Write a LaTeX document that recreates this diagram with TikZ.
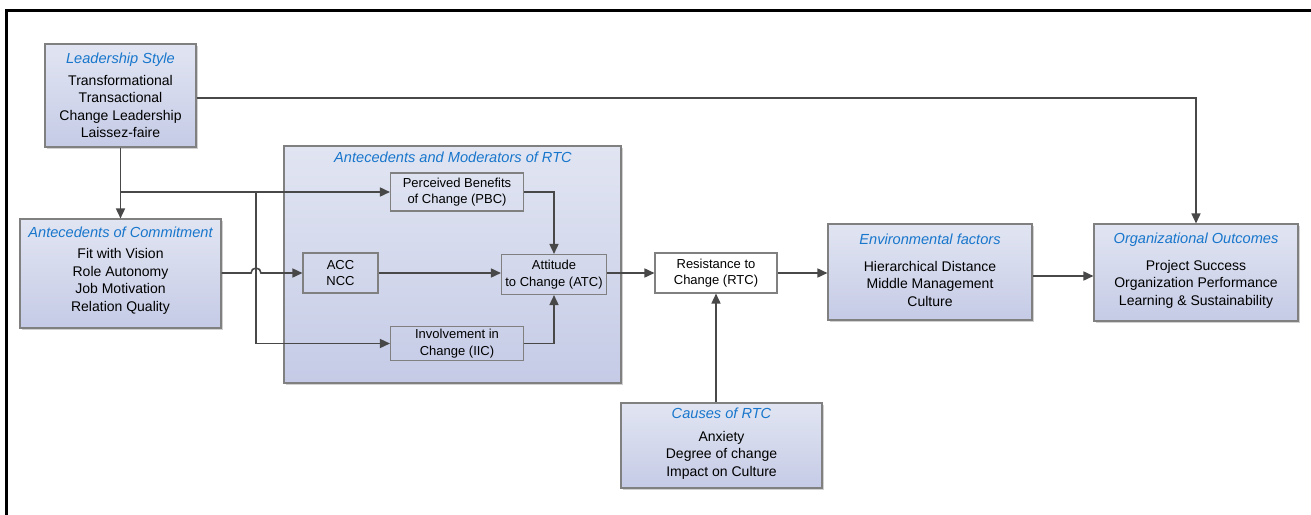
\documentclass[tikz,border=0pt]{standalone}
\usepackage{fontspec}
\setmainfont{Liberation Sans}
\usetikzlibrary{arrows.meta,shadows,calc}
\definecolor{ttlblue}{RGB}{24,118,204}
\definecolor{lineg}{RGB}{72,72,72}
\definecolor{boxedge}{RGB}{128,128,128}
\definecolor{boxtop}{RGB}{225,229,242}
\definecolor{boxbot}{RGB}{197,203,230}
\newcommand{\ttl}[1]{{\itshape\color{ttlblue}\fontsize{14.6}{17}\selectfont #1}}
\begin{document}
\begin{tikzpicture}[x=1pt,y=-1pt,
  bigbox/.style={draw=boxedge,line width=1.1pt,top color=boxtop,bottom color=boxbot,
    inner sep=0pt,align=center,font=\fontsize{14}{17.5}\selectfont,
    drop shadow={shadow xshift=2pt,shadow yshift=-2pt,opacity=0.18,fill=black}},
  boxtext/.style={align=center,font=\fontsize{14}{17.5}\selectfont,inner sep=0pt},
  smallbox/.style={draw=boxedge,line width=1.1pt,inner sep=0pt,align=center,
    font=\fontsize{13}{16.5}\selectfont},
  conn/.style={draw=lineg,line width=1.6pt,-{Triangle[length=10pt,width=9pt]}},
  borderline/.style={line width=3pt,black}]
\useasboundingbox (0,0) rectangle (1311,514);
\draw[borderline] (6,516) -- (6,10) -- (1313,10);

% big boxes
\node[bigbox,minimum width=151pt,minimum height=103pt] (LS) at (120.5,95.5)
  {\ttl{Leadership Style}\\[4.5pt]Transformational\\Transactional\\Change Leadership\\Laissez-faire};
\node[bigbox,minimum width=201pt,minimum height=109pt,
  label={[boxtext,yshift=3pt]center:{\ttl{Antecedents of Commitment}\\[3.5pt]Fit with Vision\\Role Autonomy\\Job Motivation\\Relation Quality}}] (AoC) at (120.5,273.5) {};
\node[bigbox,minimum width=337pt,minimum height=237pt] (Mod) at (452.5,264.5) {};
\node (ModT) at (453,157) {\ttl{Antecedents and Moderators of RTC}};
\node[bigbox,minimum width=204pt,minimum height=96pt,
  label={[boxtext,yshift=2pt]center:{\ttl{Environmental factors}\\[9.5pt]Hierarchical Distance\\Middle Management\\Culture}}] (Env) at (930,272) {};
\node[bigbox,minimum width=204pt,minimum height=97pt,
  label={[boxtext,yshift=2pt]center:{\ttl{Organizational Outcomes}\\[9.5pt]Project Success\\Organization Performance\\Learning \& Sustainability}}] (Org) at (1196,272.5) {};
\node[bigbox,minimum width=201pt,minimum height=85pt,
  label={[boxtext,yshift=2pt]center:{\ttl{Causes of RTC}\\[5.5pt]Anxiety\\Degree of change\\Impact on Culture}}] (Causes) at (721.5,445.5) {};

% small boxes
\node[smallbox,minimum width=133pt,minimum height=38pt] (PBC) at (457,192) {Perceived Benefits\\of Change (PBC)};
\node[smallbox,minimum width=75pt,minimum height=40pt] (ACC) at (340.5,273) {ACC\\NCC};
\node[smallbox,minimum width=105pt,minimum height=40pt] (ATC) at (554,274.5) {Attitude\\to Change (ATC)};
\node[smallbox,minimum width=133pt,minimum height=34pt] (IIC) at (457,343.5) {Involvement in\\Change (IIC)};
\node[smallbox,fill=white,minimum width=122pt,minimum height=40pt] (RTC) at (716,273) {Resistance to\\Change (RTC)};

% connectors
\coordinate (LSrow) at (0,98);
\coordinate (j1) at (120.5,192);
\coordinate (j2) at (256,192);
\coordinate (hop) at (251,273);
\coordinate (r2) at (0,276);
\draw[conn] (LS.east |- LSrow) -| (Org.north);
\draw[conn] (LS.south) -- (AoC.north);
\draw[conn] (j1) -- (PBC.west);
\draw[conn] (j2) |- (IIC.west);
\draw[conn] (AoC.east |- hop) -- (hop) arc[start angle=180,end angle=0,radius=5pt] -- (ACC.west |- hop);
\draw[conn] (ACC.east) -- (ACC.east -| ATC.west);
\draw[conn] (PBC.east) -| (ATC.north);
\draw[conn] (IIC.east) -| (ATC.south);
\draw[conn] (ATC.east |- RTC.west) -- (RTC.west);
\draw[conn] (RTC.east) -- (RTC.east -| Env.west);
\draw[conn] (Env.east |- r2) -- (Org.west |- r2);
\draw[conn] (Causes.north -| RTC.south) -- (RTC.south);
\end{tikzpicture}
\end{document}
